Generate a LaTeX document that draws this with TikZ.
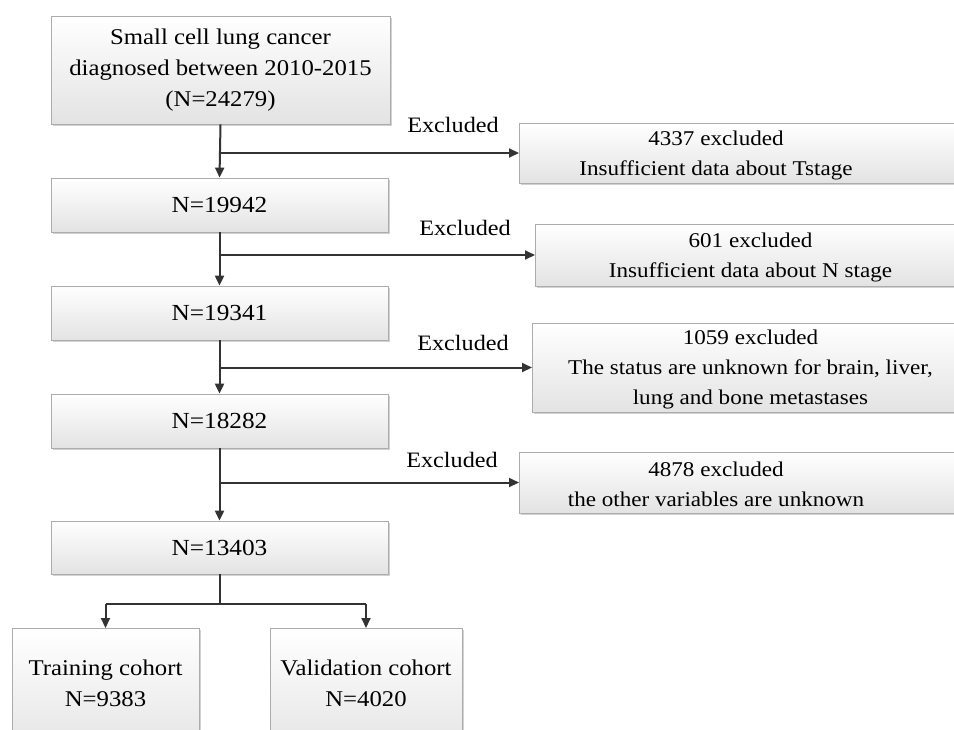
\documentclass[tikz,border=0pt]{standalone}
\usepackage{fontspec}
\setmainfont{Liberation Serif}[FakeStretch=1.1]
\usetikzlibrary{arrows.meta,shadows,calc}
\begin{document}
\begin{tikzpicture}[x=1pt,y=-1pt,
  box/.style={draw=gray!65, line width=0.8pt, top color=white, bottom color=gray!22,
    drop shadow={shadow xshift=1.5pt, shadow yshift=-1.5pt, opacity=0.35, fill=gray},
    inner sep=0pt, align=center},
  txt/.style={font=\fontsize{21}{30}\selectfont, align=center, inner sep=0pt},
  ntxt/.style={font=\fontsize{23}{30}\selectfont, align=center, inner sep=0pt},
  bigtxt/.style={font=\fontsize{22.5}{31}\selectfont, align=center, inner sep=0pt},
  lbl/.style={font=\fontsize{22}{26}\selectfont, inner sep=0pt},
  arr/.style={draw=black!80, line width=2pt, -{Triangle[length=10pt,width=9pt]}},
  ln/.style={draw=black!80, line width=2pt}]
\useasboundingbox (0,0) rectangle (954,729);
\clip (0,0) rectangle (954,729);
\fill[white] (0,0) rectangle (954,729);

% main column
\node[box, bigtxt, minimum width=339pt, minimum height=108pt] (b1) at (220.5,70)
  {Small cell lung cancer\\diagnosed between 2010-2015\\(N=24279)};
\node[box, ntxt, minimum width=337pt, minimum height=54pt] (b2) at (219.5,205) {N=19942};
\node[box, ntxt, minimum width=337pt, minimum height=54pt] (b3) at (219.5,313) {N=19341};
\node[box, ntxt, minimum width=337pt, minimum height=54pt] (b4) at (219.5,421) {N=18282};
\node[box, ntxt, minimum width=337pt, minimum height=53pt] (b5) at (219.5,547.5) {N=13403};

% right boxes (cut at the right edge)
\node[box, anchor=west, minimum width=460pt, minimum height=60pt] (r1) at (519,153) {};
\node[txt] (t1) at (716,155) {4337 excluded\\Insufficient data about Tstage};
\node[box, anchor=west, minimum width=460pt, minimum height=62pt] (r2) at (535,255) {};
\node[txt] (t2) at (750.5,257) {601 excluded\\Insufficient data about N stage};
\node[box, anchor=west, minimum width=460pt, minimum height=89pt] (r3) at (532,367.5) {};
\node[txt] (t3) at (750.5,369) {1059 excluded\\The status are unknown for brain, liver,\\lung and bone metastases};
\node[box, anchor=west, minimum width=460pt, minimum height=61pt] (r4) at (519,482.5) {};
\node[txt] (t4) at (716,484) {4878 excluded\\the other variables are unknown};

% bottom boxes (cut at the bottom edge)
\node[box, anchor=north, minimum width=187pt, minimum height=130pt] (tr) at (105.5,628) {};
\node[bigtxt] (ttr) at (105.5,683) {Training cohort\\N=9383};
\node[box, anchor=north, minimum width=192pt, minimum height=130pt] (va) at (366,628) {};
\node[bigtxt] (tva) at (366,683) {Validation cohort\\N=4020};

% labels
\node[lbl] (e1) at (453,125) {Excluded};
\node[lbl] (e2) at (465,228) {Excluded};
\node[lbl] (e3) at (463,343) {Excluded};
\node[lbl] (e4) at (452,460) {Excluded};

% connectors
\draw[arr] (b1.south) -- (b2.north);
\draw[arr] (b2.south) -- (b3.north);
\draw[arr] (b3.south) -- (b4.north);
\draw[arr] (b4.south) -- (b5.north);
\draw[arr] (b1.south |- r1.west) -- (r1.west);
\draw[arr] (b2.south |- r2.west) -- (r2.west);
\draw[arr] (b3.south |- r3.west) -- (r3.west);
\draw[arr] (b4.south |- r4.west) -- (r4.west);

\coordinate (split) at ($(b5.south)+(0,30)$);
\draw[ln] (b5.south) -- (split);
\draw[ln] (split -| tr.north) -- (split -| va.north);
\draw[arr] (split -| tr.north) -- (tr.north);
\draw[arr] (split -| va.north) -- (va.north);
\end{tikzpicture}
\end{document}
